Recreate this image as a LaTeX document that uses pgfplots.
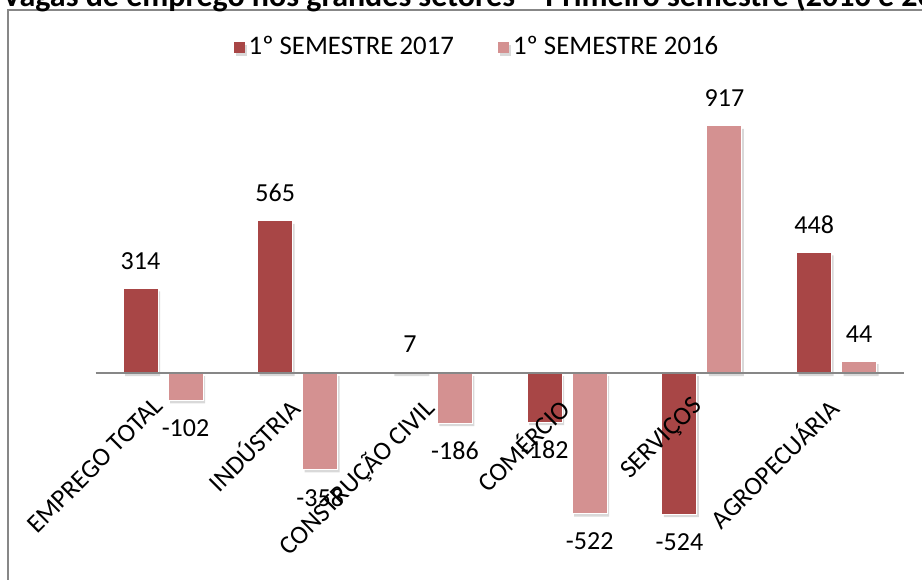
\documentclass[border=0pt]{standalone}
\usepackage{fontspec}
\setmainfont{Carlito}
\usepackage{pgfplots}
\pgfplotsset{compat=1.18}
\definecolor{dk}{HTML}{A84646}
\definecolor{lt}{HTML}{D49191}
\definecolor{frm}{HTML}{878787}
\begin{document}
\begin{tikzpicture}
\useasboundingbox (0,0) rectangle (461pt,-289.5pt);
\clip (0,0) rectangle (461pt,-289.5pt);
\draw[frm, line width=0.75pt] (4pt,-295pt) -- (4pt,-5pt) -- (470pt,-5pt);
\node[anchor=base west, inner sep=0pt, font=\bfseries\fontsize{16}{18}\selectfont] at (1pt,-3.4pt) {Vagas de emprego nos grandes setores – Primeiro semestre (2016 e 2017)};
\begin{axis}[
  at={(81.5pt,-186.5pt)}, anchor=origin,
  scale only axis, width=404.2pt, height=215.5pt,
  xmin=-0.5, xmax=5.5, ymin=-600, ymax=1000,
  clip=false, axis on top,
  ybar, bar width=17.5pt,
  axis x line=middle, axis y line=none,
  x axis line style={-, frm, line width=0.75pt},
  xtick={0,1,2,3,4,5},
  xticklabels={EMPREGO TOTAL, INDÚSTRIA, CONSTRUÇÃO CIVIL, COMÉRCIO, SERVIÇOS, AGROPECUÁRIA},
  major tick length=0pt,
  ytick=\empty,
  xticklabel style={font=\fontsize{13}{15}\selectfont, yshift=-11pt, xshift=-5.5pt, rotate=45, anchor=north east, inner sep=0pt},
  nodes near coords={\pgfmathprintnumber[assume math mode=true]{\pgfplotspointmeta}},
  every node near coord/.append style={font=\fontsize{13}{15}\selectfont, inner ysep=9.3pt, inner xsep=0pt, text=black},
  legend style={at={(0.473,1.131)}, anchor=center, draw=none, fill=none, font=\fontsize{13.4}{15}\selectfont, legend columns=2,
    /tikz/every even column/.append style={column sep=20pt}},
  legend image code/.code={\fill[#1, draw=none] (0pt,-2.7pt) rectangle (5.5pt,2.8pt);},
]
\addplot[bar shift=-11.25pt, fill=dk, draw=white, line width=0.5pt,
  preaction={fill=black, opacity=0.15, draw=none, transform canvas={xshift=1pt, yshift=-1.5pt}}]
  coordinates {(0,314) (1,565) (2,7) (3,-182) (4,-524) (5,448)};
\addplot[bar shift=11.25pt, fill=lt, draw=white, line width=0.5pt,
  preaction={fill=black, opacity=0.15, draw=none, transform canvas={xshift=1pt, yshift=-1.5pt}}]
  coordinates {(0,-102) (1,-358) (2,-186) (3,-522) (4,917) (5,44)};
\legend{1º SEMESTRE 2017, 1º SEMESTRE 2016}
\end{axis}
\end{tikzpicture}
\end{document}
